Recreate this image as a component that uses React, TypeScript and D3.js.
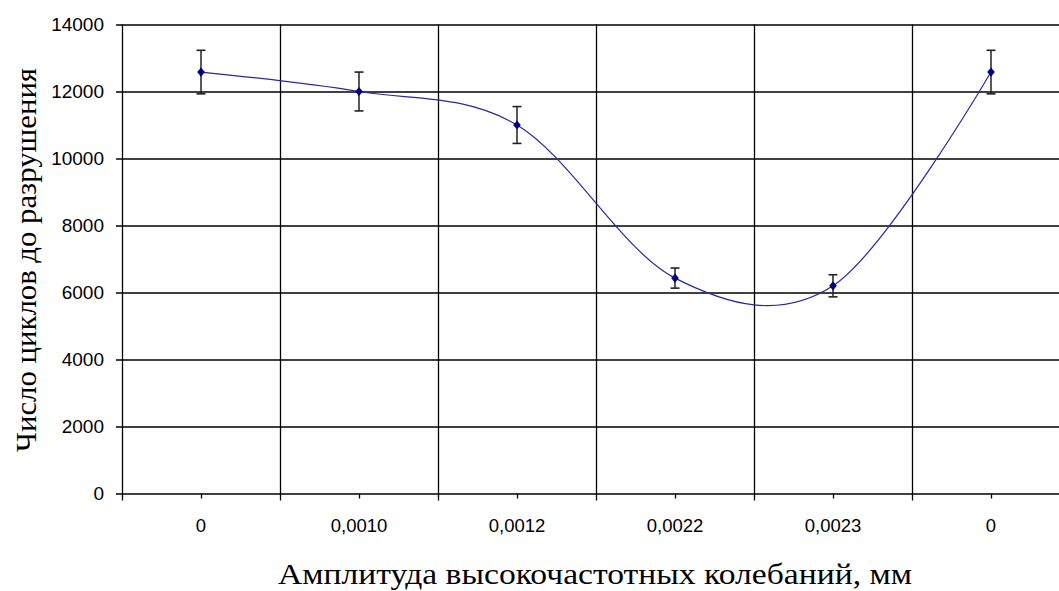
import React, { useEffect, useRef } from "react";
import * as d3 from "d3";

const categories = ["0", "0,0010", "0,0012", "0,0022", "0,0023", "0"];
const cycles = [12580, 12000, 11000, 6430, 6200, 12580];
const errors = [650, 580, 550, 300, 330, 650];
const yTicks = [0, 2000, 4000, 6000, 8000, 10000, 12000, 14000];

const W = 1059;
const H = 591;

export default function App() {
  const ref = useRef<SVGSVGElement>(null);

  useEffect(() => {
    const svg = d3.select(ref.current);
    svg.selectAll("*").remove();

    const margin = { left: 122, top: 24.5, right: -11, bottom: 97.5 };
    const plotW = W - margin.left - margin.right;
    const plotH = H - margin.top - margin.bottom;

    const x = d3
      .scaleBand<number>()
      .domain(categories.map((_, i) => i))
      .range([0, plotW]);
    const y = d3.scaleLinear().domain([0, 14000]).range([plotH, 0]);

    const g = svg
      .append("g")
      .attr("transform", "translate(" + margin.left + "," + margin.top + ")");

    // horizontal grid
    g.selectAll(".hgrid")
      .data(yTicks)
      .enter()
      .append("line")
      .attr("x1", -6)
      .attr("x2", plotW)
      .attr("y1", (d) => Math.round(y(d)) + 0.5)
      .attr("y2", (d) => Math.round(y(d)) + 0.5)
      .attr("stroke", "#000")
      .attr("stroke-width", 1.3);

    // vertical grid at category boundaries
    const bounds = categories.map((_, i) => x(i)!).concat([plotW]);
    g.selectAll(".vgrid")
      .data(bounds)
      .enter()
      .append("line")
      .attr("x1", (d) => Math.round(d) + 0.5)
      .attr("x2", (d) => Math.round(d) + 0.5)
      .attr("y1", 0)
      .attr("y2", plotH + 7)
      .attr("stroke", "#000")
      .attr("stroke-width", 1.3);

    // center ticks
    g.selectAll(".ctick")
      .data(categories.map((_, i) => i))
      .enter()
      .append("line")
      .attr("x1", (d) => Math.round(x(d)! + x.bandwidth() / 2) + 0.5)
      .attr("x2", (d) => Math.round(x(d)! + x.bandwidth() / 2) + 0.5)
      .attr("y1", plotH)
      .attr("y2", plotH + 5)
      .attr("stroke", "#000")
      .attr("stroke-width", 1.3);

    // y labels
    g.selectAll(".ylab")
      .data(yTicks)
      .enter()
      .append("text")
      .attr("x", -18)
      .attr("y", (d) => y(d))
      .attr("dy", "0.36em")
      .attr("text-anchor", "end")
      .attr("font-family", "Liberation Sans, Arial, sans-serif")
      .attr("font-size", 19)
      .attr("fill", "#000")
      .text((d) => String(d));

    // x labels
    g.selectAll(".xlab")
      .data(categories)
      .enter()
      .append("text")
      .attr("x", (_, i) => x(i)! + x.bandwidth() / 2)
      .attr("y", plotH + 38.5)
      .attr("text-anchor", "middle")
      .attr("font-family", "Liberation Sans, Arial, sans-serif")
      .attr("font-size", 18.5)
      .attr("fill", "#000")
      .text((d) => d);

    const cx = (i: number) => x(i)! + x.bandwidth() / 2;

    // smoothed line
    const line = d3
      .line<number>()
      .x((_, i) => cx(i))
      .y((d) => y(d))
      .curve(d3.curveCardinal.tension(0));
    g.append("path")
      .datum(cycles)
      .attr("d", line)
      .attr("fill", "none")
      .attr("stroke", "#2828a4")
      .attr("stroke-width", 1.2);

    // error bars
    const eb = g
      .selectAll(".err")
      .data(cycles)
      .enter()
      .append("g");
    eb.append("line")
      .attr("x1", (_, i) => cx(i))
      .attr("x2", (_, i) => cx(i))
      .attr("y1", (d, i) => y(d + errors[i]))
      .attr("y2", (d, i) => y(d - errors[i]))
      .attr("stroke", "#222")
      .attr("stroke-width", 1.5);
    eb.append("line")
      .attr("x1", (_, i) => cx(i) - 4.5)
      .attr("x2", (_, i) => cx(i) + 4.5)
      .attr("y1", (d, i) => y(d + errors[i]))
      .attr("y2", (d, i) => y(d + errors[i]))
      .attr("stroke", "#222")
      .attr("stroke-width", 1.6);
    eb.append("line")
      .attr("x1", (_, i) => cx(i) - 4.5)
      .attr("x2", (_, i) => cx(i) + 4.5)
      .attr("y1", (d, i) => y(d - errors[i]))
      .attr("y2", (d, i) => y(d - errors[i]))
      .attr("stroke", "#222")
      .attr("stroke-width", 1.6);

    // markers
    g.selectAll(".mark")
      .data(cycles)
      .enter()
      .append("path")
      .attr("d", d3.symbol(d3.symbolDiamond, 30)())
      .attr("transform", (d, i) => "translate(" + cx(i) + "," + y(d) + ") scale(1.3,0.9)")
      .attr("fill", "#000080");

    // axis titles
    svg
      .append("text")
      .attr("transform", "translate(36,260) rotate(-90)")
      .attr("text-anchor", "middle")
      .attr("font-family", "Liberation Serif, Times New Roman, serif")
      .attr("font-size", 30)
      .attr("textLength", 384)
      .attr("lengthAdjust", "spacingAndGlyphs")
      .attr("fill", "#000")
      .text("Число циклов до разрушения");

    svg
      .append("text")
      .attr("x", 595)
      .attr("y", 584)
      .attr("text-anchor", "middle")
      .attr("font-family", "Liberation Serif, Times New Roman, serif")
      .attr("font-size", 29)
      .attr("textLength", 634)
      .attr("lengthAdjust", "spacingAndGlyphs")
      .attr("fill", "#000")
      .text("Амплитуда высокочастотных колебаний, мм");
  }, []);

  return (
    <svg
      ref={ref}
      width={W}
      height={H}
      style={{ position: "absolute", left: 0, top: 0, background: "#fff" }}
    />
  );
}
